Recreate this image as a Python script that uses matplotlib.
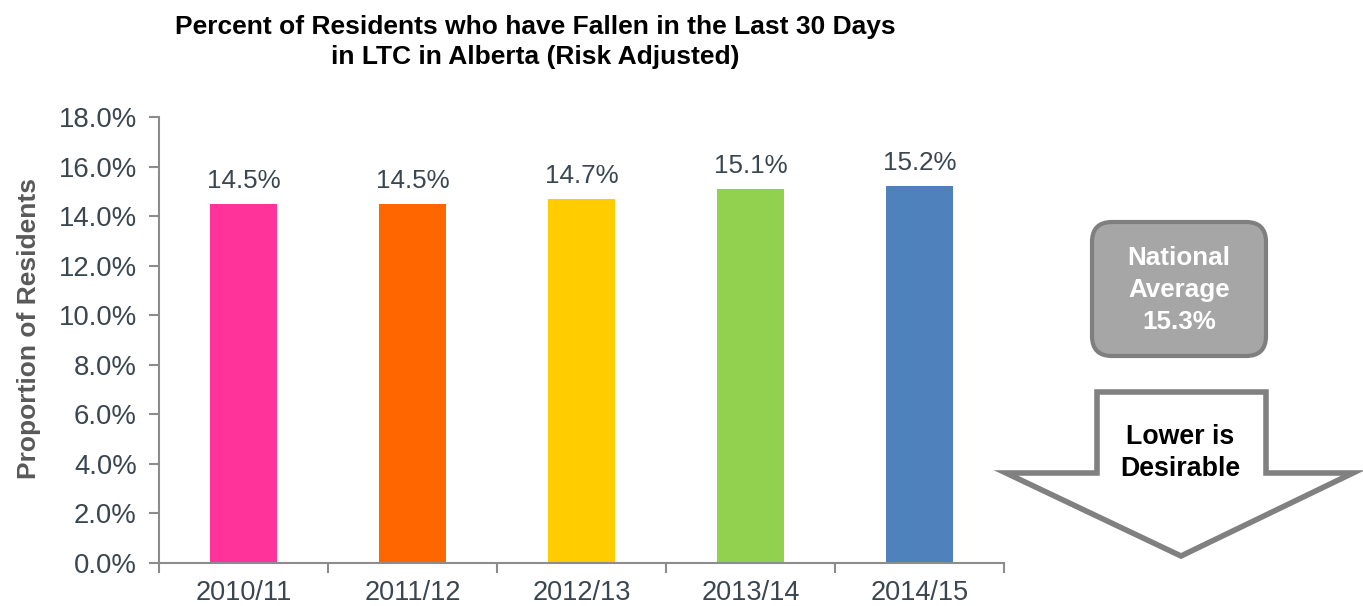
import numpy as np
import matplotlib.pyplot as plt
from matplotlib.patches import FancyBboxPatch, Polygon

# --- data ---
years = ['2010/11', '2011/12', '2012/13', '2013/14', '2014/15']
values = [14.5, 14.5, 14.7, 15.1, 15.2]
bar_colors = ['#FF3399', '#FF6600', '#FFCC00', '#92D050', '#4F81BD']
national_avg = 15.3

TITLE = 'Percent of Residents who have Fallen in the Last 30 Days\nin LTC in Alberta (Risk Adjusted)'
TXT = '#3A4650'
AXC = '#8C8C8C'

plt.rcParams['font.family'] = ['Liberation Sans', 'DejaVu Sans']

W, H = 1363, 606
fig = plt.figure(figsize=(W / 100, H / 100), dpi=100)
ax = fig.add_axes([159 / W, 1 - 563 / H, (1004 - 159) / W, (563 - 117) / H])

x = np.arange(len(years))
ax.bar(x, values, width=0.4, color=bar_colors)
for xi, v in zip(x, values):
    ax.text(xi, v + 0.45, f'{v:.1f}%', ha='center', va='bottom', fontsize=18.7, color=TXT)

ax.set_xlim(-0.5, len(years) - 0.5)
ax.set_ylim(0, 18)
ax.set_yticks(np.arange(0, 18.1, 2))
ax.set_yticklabels([f'{t:.1f}%' for t in np.arange(0, 18.1, 2)])
ax.set_xticks(x)
ax.set_xticklabels(years)
ax.set_xticks(np.arange(-0.5, len(years)), minor=True)
ax.tick_params(axis='x', which='major', length=0, labelsize=19.5, colors=TXT, pad=12)
ax.tick_params(axis='x', which='minor', length=7, width=1.5, color=AXC, direction='out')
ax.tick_params(axis='y', length=7, width=1.5, color=AXC, labelsize=19.8, labelcolor=TXT, pad=9)
for s in ['top', 'right']:
    ax.spines[s].set_visible(False)
for s in ['left', 'bottom']:
    ax.spines[s].set_color(AXC)
    ax.spines[s].set_linewidth(1.5)

ax.set_ylabel('Proportion of Residents', fontsize=19, fontweight='bold', color='#595959')
ax.yaxis.set_label_coords(-0.14, 0.525)

fig.text(535 / W, 1 - 42 / H, TITLE, ha='center', va='center', fontsize=19,
         fontweight='bold', color='black', linespacing=1.35)

# --- side annotations in pixel coordinates ---
ov = fig.add_axes([0, 0, 1, 1], facecolor='none')
ov.set_xlim(0, W)
ov.set_ylim(H, 0)
ov.axis('off')

box = FancyBboxPatch((1092, 222), 174, 134, boxstyle='round,pad=0,rounding_size=20',
                     facecolor='#A6A6A6', edgecolor='#7F7F7F', linewidth=3)
ov.add_patch(box)
ov.text(1179, 290, f'National\nAverage\n{national_avg:.1f}%', ha='center', va='center',
        fontsize=18.7, fontweight='bold', color='white', linespacing=1.4)

arrow = Polygon([(1097, 392), (1266, 392), (1266, 473), (1353, 473), (1181, 556),
                 (1006, 473), (1097, 473)], closed=True, facecolor='white',
                edgecolor='#808080', linewidth=4, joinstyle='miter')
ov.add_patch(arrow)
ov.text(1180, 453, 'Lower is\nDesirable', ha='center', va='center', fontsize=19.3,
        fontweight='bold', color='black', linespacing=1.3)

fig.savefig('out.png', dpi=100, facecolor='white')
